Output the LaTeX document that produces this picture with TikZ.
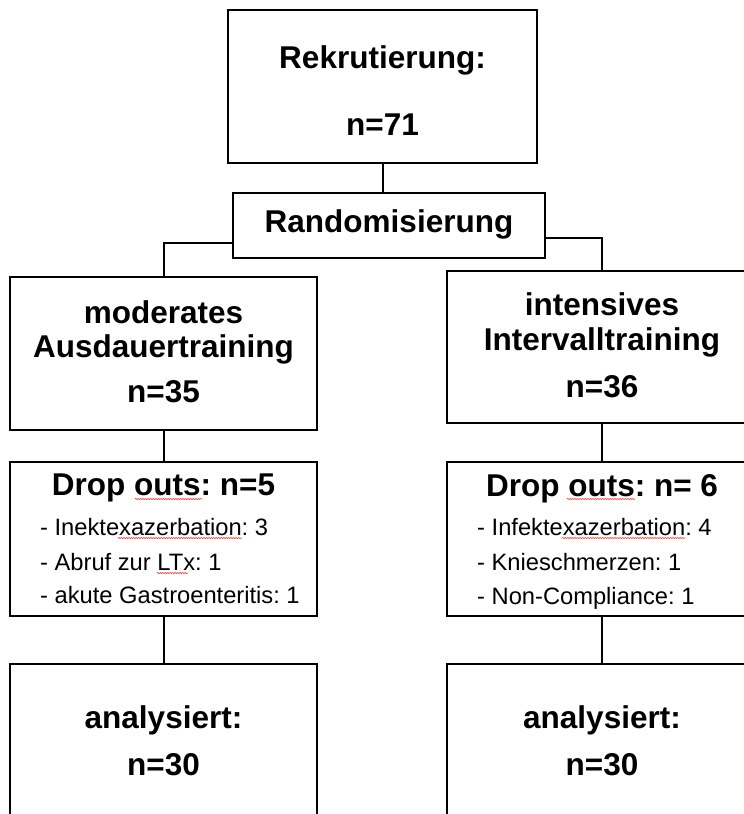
\documentclass[tikz,border=0pt]{standalone}
\usepackage{fontspec}
\usetikzlibrary{decorations.pathmorphing}
\setmainfont{Liberation Sans}
\frenchspacing
\begin{document}
\begin{tikzpicture}[x=1pt,y=-1pt,
  box/.style={draw, line width=2.6pt, inner sep=0pt, outer sep=0pt},
  conn/.style={line width=2pt},
  head/.style={font=\fontsize{31.5}{35}\selectfont\bfseries, inner sep=0pt, anchor=base},
  item/.style={font=\fontsize{23.7}{28}\selectfont, inner sep=0pt, anchor=base west},
  spell/.style={draw=red!75, line width=0.6pt, decorate, decoration={snake, amplitude=0.6pt, segment length=2.5pt}}]
\useasboundingbox (0,0) rectangle (744,814);
\clip (0,0) rectangle (744,814);
% boxes
\node[box, minimum width=309pt, minimum height=153pt] (rek) at (382.5,86.5) {};
\node[box, minimum width=312pt, minimum height=65pt] (rand) at (389,225.5) {};
\node[box, minimum width=307pt, minimum height=153pt] (mod) at (163.5,353.5) {};
\node[box, minimum width=310pt, minimum height=152pt] (int) at (602,347) {};
\node[box, minimum width=307pt, minimum height=154pt] (dropL) at (163.5,539) {};
\node[box, minimum width=310pt, minimum height=154pt] (dropR) at (602,539) {};
\node[box, minimum width=307pt, minimum height=226pt] (anaL) at (163.5,777) {};
\node[box, minimum width=310pt, minimum height=226pt] (anaR) at (602,777) {};
% texts
\node[head] (t1) at (382.5,68) {Rekrutierung:};
\node[head] (t2) at (382.5,135) {n=71};
\node[head] (t3) at (389,232) {Randomisierung};
\node[head] (t4) at (163.5,323) {moderates};
\node[head] (t5) at (163.5,357) {Ausdauertraining};
\node[head] (t6) at (163.5,402) {n=35};
\node[head] (t7) at (602,315) {intensives};
\node[head] (t8) at (602,350) {Intervalltraining};
\node[head] (t9) at (602,397) {n=36};
\node[head] (t10) at (163.5,495) {Drop outs: n=5};
\node[head] (t11) at (602,496) {Drop outs: n= 6};
\node[item] (i1) at (40,535) {- Inektexazerbation: 3};
\node[item] (i2) at (40,570) {- Abruf zur LTx: 1};
\node[item] (i3) at (40,603) {- akute Gastroenteritis: 1};
\node[item] (i4) at (477,535) {- Infektexazerbation: 4};
\node[item] (i5) at (477,570) {- Knieschmerzen: 1};
\node[item] (i6) at (477,604) {- Non-Compliance: 1};
\node[head] (t12) at (163.5,728) {analysiert:};
\node[head] (t13) at (163.5,775) {n=30};
\node[head] (t14) at (602,728) {analysiert:};
\node[head] (t15) at (602,775) {n=30};
% spell-check marks
\path[spell] (135,499) -- (202,499);
\path[spell] (118,538) -- (242,538);
\path[spell] (157,573) -- (188,573);
\path[spell] (567,499) -- (635,499);
\path[spell] (562,538) -- (685,538);
% connectors
\coordinate (rl) at (rand.west |- 0,243);
\coordinate (rr) at (rand.east |- 0,238);
\draw[conn] (rek.south) -- (rek.south |- rand.north);
\draw[conn] (rl) -| (mod.north);
\draw[conn] (rr) -| (int.north);
\draw[conn] (mod.south) -- (dropL.north);
\draw[conn] (dropL.south) -- (anaL.north);
\draw[conn] (int.south) -- (dropR.north);
\draw[conn] (dropR.south) -- (anaR.north);
\end{tikzpicture}
\end{document}
